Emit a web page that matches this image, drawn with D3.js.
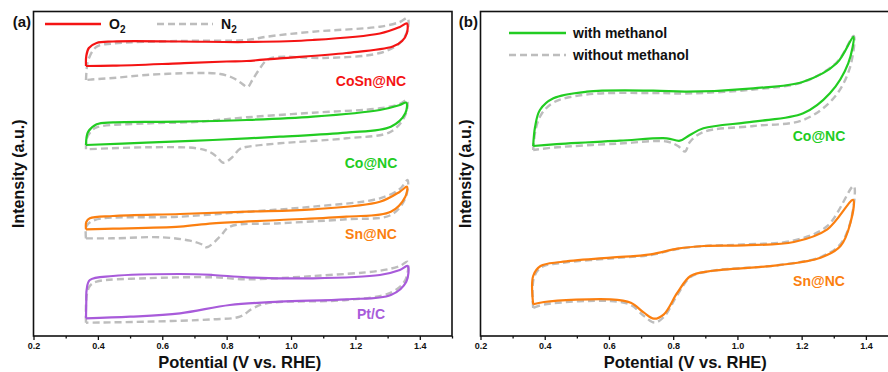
<!DOCTYPE html>
<html>
<head>
<meta charset="utf-8">
<script src="https://cdn.jsdelivr.net/npm/d3@7"></script>
<style>
  body { margin: 0; background: #fff; }
  svg { display: block; font-family: 'Liberation Sans', Arial, sans-serif; }
</style>
</head>
<body>
<svg id="chart" width="888" height="372"></svg>
<script>
// potential (V vs. RHE) / intensity (a.u.), each loop drawn in sweep order
const cosnO2 = [[0.363,270],[0.364,280],[0.372,288],[0.396,293],[0.447,294.5],[0.655,294.5],[0.862,294],[1.068,296],[1.276,302.5],[1.338,309],[1.36,312.5],
  [1.36,303],[1.345,295],[1.316,289.5],[1.172,283],[0.965,277.7],[0.862,275],[0.80,274.5],[0.655,272.7],[0.447,270.3],[0.363,270]];
const cosnN2 = [[0.363,256],[0.365,266],[0.37,276],[0.396,289.3],[0.447,292.5],[0.655,295],[0.862,296],[0.924,299.3],[1.068,304.3],[1.276,309.3],[1.338,314],[1.362,318],
  [1.362,306],[1.338,293],[1.276,283],[1.1,278],[0.96,279],[0.925,276],[0.90,266],[0.88,256],[0.865,249],[0.845,253],[0.82,258],[0.78,262],[0.70,263],[0.55,261],[0.447,258],[0.38,256.5],[0.363,256]];

const coO2 = [[0.363,191],[0.365,199],[0.37,204.3],[0.396,211.7],[0.447,213.7],[0.655,214.3],[0.862,216],[1.068,219.3],[1.276,226],[1.338,231],[1.358,233.3],
  [1.355,222.7],[1.31,209.3],[1.172,203.3],[0.965,199.3],[0.757,196],[0.55,193.3],[0.363,191]];
const coN2 = [[0.363,186.7],[0.366,198],[0.38,205],[0.396,208.7],[0.55,212.5],[0.70,214],[0.862,218.7],[1.068,223.3],[1.276,227.7],[1.338,232],[1.36,236],
  [1.355,221],[1.31,204.3],[1.172,197.7],[0.965,192.7],[0.86,189],[0.841,187],[0.815,178],[0.789,173.3],[0.77,179],[0.748,184],[0.707,187.7],[0.55,188.7],[0.363,186.7]];

const snO2 = [[0.363,106.7],[0.364,114],[0.375,117.7],[0.447,120],[0.655,122],[0.862,124.3],[1.068,126.7],[1.276,134.3],[1.338,144.3],[1.36,149.3],
  [1.355,139.3],[1.31,124.3],[1.172,119.3],[0.965,116],[0.757,112.7],[0.655,109.3],[0.447,107.3],[0.363,106.7]];
const snN2 = [[0.363,97.7],[0.365,110],[0.39,116],[0.655,119.3],[0.862,124.3],[1.068,129.3],[1.276,137.7],[1.338,147],[1.362,156],
  [1.355,137.7],[1.31,121],[1.172,116.7],[0.965,112.7],[0.81,109.3],[0.779,99.3],[0.738,88.7],[0.72,92],[0.686,95.3],[0.60,98.7],[0.447,97.7],[0.363,97.7]];

const ptO2 = [[0.363,17.7],[0.364,35],[0.365,46],[0.375,56],[0.447,60],[0.655,62],[0.757,61],[0.862,58.7],[1.068,57.7],[1.276,61],[1.338,66],[1.362,70],
  [1.358,54.3],[1.31,41],[1.172,36.7],[0.965,34.3],[0.81,31],[0.655,22.7],[0.50,19.3],[0.363,17.7]];
const ptN2 = [[0.363,13.3],[0.365,40],[0.375,50],[0.396,54.3],[0.55,57.7],[0.757,58.7],[0.862,56.7],[1.068,60],[1.276,65.3],[1.338,70],[1.362,74.3],
  [1.355,56],[1.31,43.3],[1.172,36],[0.924,32.7],[0.882,27.7],[0.841,19.3],[0.757,16.7],[0.55,14.3],[0.363,13.3]];

const coMeOH = [[0.364,190],[0.370,209.3],[0.385,226],[0.427,237.7],[0.531,244.3],[0.738,245.3],[0.842,244.3],[1.049,247.7],[1.205,254.3],[1.309,272.7],[1.361,299.3],
  [1.345,272.7],[1.288,242.7],[1.205,222.7],[1.049,214.3],[0.894,207.7],[0.852,201],[0.821,195.3],[0.780,197.7],[0.634,195.3],[0.427,191.7],[0.364,190]];
const coNoMeOH = [[0.364,186],[0.372,207],[0.39,222],[0.43,234],[0.53,241.5],[0.74,243],[0.84,242.5],[1.05,246.5],[1.205,254],[1.31,274],[1.362,300],
  [1.35,268],[1.30,238],[1.205,216],[1.05,210],[0.894,204],[0.852,194],[0.837,184.5],[0.815,190],[0.78,194.5],[0.634,192.5],[0.43,188.5],[0.364,186]];

const snMeOH = [[0.364,31.7],[0.364,60],[0.387,70],[0.450,74],[0.605,78.3],[0.730,81.7],[0.813,87.3],[0.896,90],[1.020,90.7],[1.176,94],[1.280,106.7],[1.360,136],
  [1.352,113.3],[1.321,90],[1.259,78.3],[1.124,70.7],[0.917,65],[0.854,60],[0.813,43.3],[0.771,21.7],[0.740,17.3],[0.709,23.3],[0.668,33.3],[0.605,36.7],[0.398,34],[0.364,31.7]];
const snNoMeOH = [[0.364,28],[0.366,58],[0.39,69],[0.45,73],[0.605,77.5],[0.73,81],[0.813,87],[0.896,90],[1.02,91.5],[1.176,95.5],[1.28,110],[1.362,150],
  [1.355,118],[1.321,92],[1.259,79],[1.124,70.7],[0.917,65],[0.854,59],[0.813,41],[0.771,19],[0.742,13.5],[0.709,20],[0.668,31],[0.605,35],[0.398,31.5],[0.364,28]];

const majorTicks = [0.2, 0.4, 0.6, 0.8, 1.0, 1.2, 1.4];
const minorTicks = [0.3, 0.5, 0.7, 0.9, 1.1, 1.3, 1.5];
const xTitle = 'Potential (V vs. RHE)';
const yTitle = 'Intensity (a.u.)';

const gray = '#bdbdbd';
const panels = [
  {
    tag: '(a)', left: 33.5, right: 452,
    curves: [
      { data: cosnN2, color: gray, dash: true }, { data: cosnO2, color: '#f41414' },
      { data: coN2, color: gray, dash: true }, { data: coO2, color: '#22cc22' },
      { data: snN2, color: gray, dash: true }, { data: snO2, color: '#fb7f10' },
      { data: ptN2, color: gray, dash: true }, { data: ptO2, color: '#a85bda' },
    ],
    labels: [
      { text: 'CoSn@NC', x: 371, y: 86, color: '#f41414' },
      { text: 'Co@NC', x: 371, y: 168, color: '#22cc22' },
      { text: 'Sn@NC', x: 371, y: 239, color: '#fb7f10' },
      { text: 'Pt/C', x: 371, y: 319, color: '#a85bda' },
    ],
    legend: [
      { x1: 45, x2: 101, y: 24, color: '#f41414', text: 'O', sub: '2', tx: 109 },
      { x1: 157, x2: 213, y: 24, color: gray, dash: true, text: 'N', sub: '2', tx: 221 },
    ],
  },
  {
    tag: '(b)', left: 480.5, right: 898,
    curves: [
      { data: coNoMeOH, color: gray, dash: true }, { data: coMeOH, color: '#22cc22' },
      { data: snNoMeOH, color: gray, dash: true }, { data: snMeOH, color: '#fb7f10' },
    ],
    labels: [
      { text: 'Co@NC', x: 819, y: 141, color: '#22cc22' },
      { text: 'Sn@NC', x: 819, y: 286, color: '#fb7f10' },
    ],
    legend: [
      { x1: 509, x2: 566, y: 33, color: '#22cc22', text: 'with methanol', tx: 573 },
      { x1: 509, x2: 566, y: 55, color: gray, dash: true, text: 'without methanol', tx: 573 },
    ],
  },
];

const svg = d3.select('#chart');
const plotTop = 11.5;
const plotBottom = 336;

const y = d3.scaleLinear().domain([0, 324.5]).range([plotBottom, plotTop]);

panels.forEach((p) => {
  const x = d3.scaleLinear().domain([0.2, 1.5]).range([p.left, p.right]);
  const g = svg.append('g');

  const line = d3.line()
    .x(d => x(d[0]))
    .y(d => y(d[1]))
    .curve(d3.curveCatmullRom.alpha(0.5));

  g.selectAll('path.cv')
    .data(p.curves)
    .enter()
    .append('path')
    .attr('class', 'cv')
    .attr('d', d => line(d.data))
    .attr('fill', 'none')
    .attr('stroke', d => d.color)
    .attr('stroke-width', d => (d.dash ? 2.4 : 2.2))
    .attr('stroke-dasharray', d => (d.dash ? '7,4' : null))
    .attr('stroke-linejoin', 'round');

  // frame
  g.append('rect')
    .attr('x', p.left)
    .attr('y', plotTop)
    .attr('width', p.right - p.left)
    .attr('height', plotBottom - plotTop)
    .attr('fill', 'none')
    .attr('stroke', '#111')
    .attr('stroke-width', 1.6);

  const axis = g.append('g')
    .attr('transform', `translate(0,${plotBottom})`)
    .call(d3.axisBottom(x).tickValues(majorTicks).tickFormat(d3.format('.1f')).tickSize(4).tickPadding(3));
  axis.select('.domain').remove();
  axis.selectAll('line').attr('stroke', '#111').attr('stroke-width', 1.3);
  axis.selectAll('text')
    .attr('font-size', 9)
    .attr('font-weight', 'bold')
    .attr('fill', '#111')
    .attr('font-family', "'Liberation Sans', Arial, sans-serif");

  const minor = g.append('g')
    .attr('transform', `translate(0,${plotBottom})`)
    .call(d3.axisBottom(x).tickValues(minorTicks).tickFormat('').tickSize(2.5));
  minor.select('.domain').remove();
  minor.selectAll('line').attr('stroke', '#111').attr('stroke-width', 1.3);

  g.append('text')
    .attr('x', (p.left + Math.min(p.right, 896)) / 2 - 3)
    .attr('y', 368)
    .attr('text-anchor', 'middle')
    .attr('font-size', 16.5)
    .attr('font-weight', 'bold')
    .attr('fill', '#111')
    .text(xTitle);

  g.append('text')
    .attr('transform', `translate(${p.left - 10},${(plotTop + plotBottom) / 2}) rotate(-90)`)
    .attr('text-anchor', 'middle')
    .attr('font-size', 16)
    .attr('font-weight', 'bold')
    .attr('fill', '#111')
    .text(yTitle);

  g.append('text')
    .attr('x', p.left - 2.5)
    .attr('y', 27)
    .attr('text-anchor', 'end')
    .attr('font-size', 15)
    .attr('font-weight', 'bold')
    .attr('fill', '#111')
    .text(p.tag);

  g.selectAll('text.lab')
    .data(p.labels)
    .enter()
    .append('text')
    .attr('class', 'lab')
    .attr('x', d => d.x)
    .attr('y', d => d.y)
    .attr('text-anchor', 'middle')
    .attr('font-size', 14)
    .attr('font-weight', 'bold')
    .attr('fill', d => d.color)
    .text(d => d.text);

  const leg = g.selectAll('g.leg')
    .data(p.legend)
    .enter()
    .append('g')
    .attr('class', 'leg');
  leg.append('line')
    .attr('x1', d => d.x1)
    .attr('x2', d => d.x2)
    .attr('y1', d => d.y)
    .attr('y2', d => d.y)
    .attr('stroke', d => d.color)
    .attr('stroke-width', 2.4)
    .attr('stroke-dasharray', d => (d.dash ? '7,4' : null));
  const lt = leg.append('text')
    .attr('x', d => d.tx)
    .attr('y', d => d.y + 5)
    .attr('font-size', 14)
    .attr('font-weight', 'bold')
    .attr('fill', '#111')
    .text(d => d.text);
  lt.filter(d => d.sub)
    .append('tspan')
    .attr('font-size', 10)
    .attr('dy', 4)
    .text(d => d.sub);
});
</script>
</body>
</html>
